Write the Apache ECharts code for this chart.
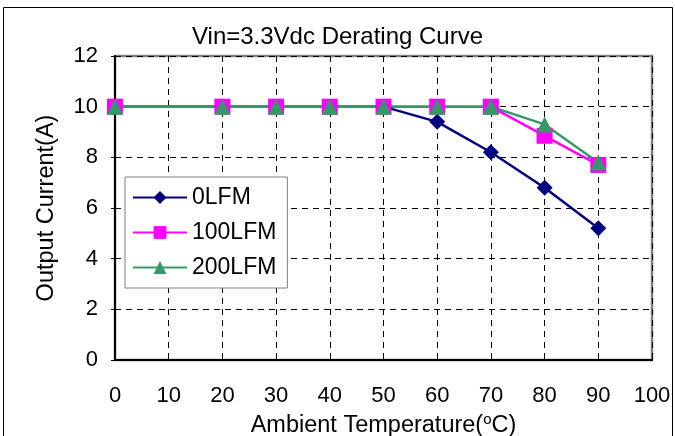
<!DOCTYPE html>
<html><head><meta charset="utf-8">
<script src="https://cdn.jsdelivr.net/npm/echarts@6/dist/echarts.min.js"></script>
<style>html,body{margin:0;padding:0;background:#fff}#c{width:675px;height:436px}</style>
</head><body><div id="c"></div>
<script>
const temps = [0, 20, 30, 40, 50, 60, 70, 80, 90];
const lfm0 = [10, 10, 10, 10, 10, 9.4, 8.2, 6.8, 5.2];
const lfm100 = [10, 10, 10, 10, 10, 10, 10, 8.85, 7.7];
const lfm200 = [10, 10, 10, 10, 10, 10, 10, 9.3, 7.8];
const seriesNames = ['0LFM', '100LFM', '200LFM'];
const xTicks = [0, 10, 20, 30, 40, 50, 60, 70, 80, 90, 100];
const yTicks = [0, 2, 4, 6, 8, 10, 12];

const F = 'Liberation Sans, Arial, sans-serif';
const pair = (xs, ys) => xs.map((x, i) => [x, ys[i]]);
const chart = echarts.init(document.getElementById('c'), null, {renderer: 'canvas'});
const mk = (name, data, color, symbol) => ({
  name, type: 'line', data, symbol, symbolSize: 16,
  lineStyle: {color, width: 2.5}, itemStyle: {color}, animation: false
});
chart.setOption({
  backgroundColor: '#fff',
  animation: false,
  title: {text: 'Vin=3.3Vdc Derating Curve', left: 'center', top: 20,
    textStyle: {fontFamily: F, fontSize: 24, fontWeight: 'normal', color: '#000'}},
  graphic: [{type: 'rect', shape: {x: 3.5, y: 7.5, width: 669, height: 440},
    style: {fill: null, stroke: '#000', lineWidth: 1}, z: -10}],
  grid: {left: 115, right: 23, top: 56, bottom: 76, show: true, containLabel: false,
    outerBoundsMode: 'none',
    borderColor: '#808080', borderWidth: 2.5, backgroundColor: '#fff'},
  legend: {orient: 'vertical', left: 125, top: 177,
    backgroundColor: '#fff', borderColor: '#808080', borderWidth: 1,
    padding: [9, 11, 9, 7], itemWidth: 54, itemHeight: 16, itemGap: 12,
    textStyle: {fontFamily: F, fontSize: 23, color: '#000', padding: [0, 0, 0, 0]},
    data: seriesNames},
  xAxis: {type: 'value', min: xTicks[0], max: xTicks[xTicks.length - 1], interval: 10,
    name: 'Ambient Temperature({s|o}C)', nameLocation: 'middle', nameGap: 40,
    nameTextStyle: {fontFamily: F, fontSize: 23.5, color: '#000',
      rich: {s: {fontFamily: F, fontSize: 15, verticalAlign: 'top', padding: [0, 0, 12, 0], color: '#000'}}},
    axisLine: {lineStyle: {color: '#000', width: 2}},
    axisTick: {show: false},
    axisLabel: {fontFamily: F, fontSize: 22, color: '#000', margin: 25},
    splitLine: {lineStyle: {color: '#000', type: [6, 5], width: 1}}},
  yAxis: {type: 'value', min: yTicks[0], max: yTicks[yTicks.length - 1], interval: 2,
    name: 'Output Current(A)', nameLocation: 'middle', nameGap: 56,
    nameTextStyle: {fontFamily: F, fontSize: 23.5, color: '#000'},
    axisLine: {show: true, lineStyle: {color: '#000', width: 2}},
    axisTick: {show: true, length: 4, lineStyle: {color: '#000'}},
    axisLabel: {fontFamily: F, fontSize: 22, color: '#000', margin: 17},
    splitLine: {lineStyle: {color: '#000', type: [6, 5], width: 1}}},
  series: [
    mk(seriesNames[0], pair(temps, lfm0), '#000080', 'diamond'),
    mk(seriesNames[1], pair(temps, lfm100), '#FF00FF', 'rect'),
    mk(seriesNames[2], pair(temps, lfm200), '#339966', 'triangle')
  ]
});
</script></body></html>
